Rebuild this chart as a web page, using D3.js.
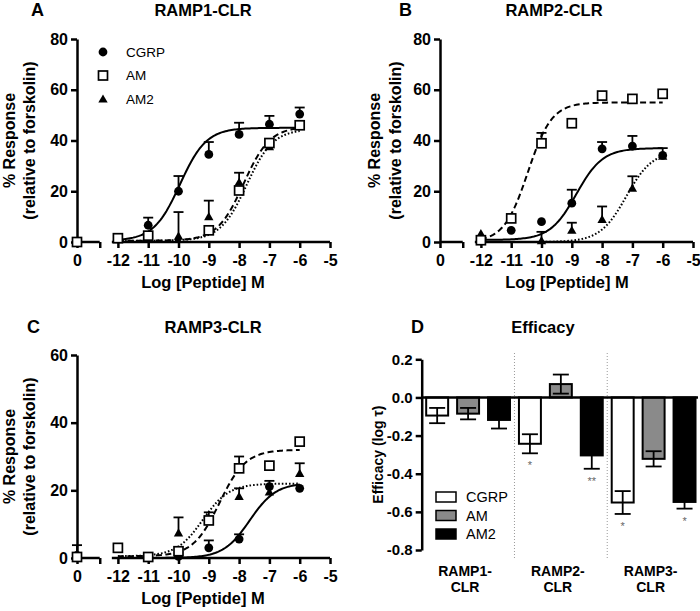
<!DOCTYPE html>
<html>
<head>
<meta charset="utf-8">
<script src="https://cdn.jsdelivr.net/npm/d3@7"></script>
<style>
  body { margin: 0; background: #fff; }
  text { font-family: "Liberation Sans", Arial, sans-serif; }
</style>
</head>
<body>
<svg id="fig" width="700" height="611"></svg>
<script>
// ---- data ----
// dose positions: null = vehicle ("0"), the rest are log [peptide] M
const logDose = [null, -12, -11, -10, -9, -8, -7, -6];
const xTicks = [-12, -11, -10, -9, -8, -7, -6, -5];
const seriesNames = ["CGRP", "AM", "AM2"];

// panel A  RAMP1-CLR
const aCgrp    = [0, null, 6.6, 20, 34.5, 42.4, 46.4, 50.4];
const aCgrpErr = [0, 0, 3, 6, 4.9, 4.6, 3.3, 2.6];
const aAm      = [0, 1.5, 2.5, null, 4.6, 20.3, 39, 46];
const aAmErr   = [0, 0, 0, 0, 0, 0, 0, 0];
const aAm2     = [null, null, null, 2.3, 10, 23.5, 37.5, 45.5];
const aAm2Err  = [0, 0, 0, 9.5, 6.3, 3.8, 0, 0];
// fits: [bottom, top, logEC50, hill]
const aFitCgrp = [0.5, 45, -9.95, 1];
const aFitAm   = [0.5, 45.5, -7.85, 1];
const aFitAm2  = [0.5, 44.5, -7.75, 1];

// panel B  RAMP2-CLR
const bCgrp    = [null, null, 4.6, 8, 15.3, 36.7, 37.8, 34.1];
const bCgrpErr = [0, 0, 0, 0, 5.3, 2.7, 4, 2.9];
const bAm      = [null, 0.7, 9.3, 38.9, 46.8, 57.7, 56.4, 58.4];
const bAmErr   = [0, 0, 0, 4.1, 0, 0, 0, 0];
const bAm2     = [null, 3.3, null, 0.5, 4.6, 8.9, 21.2, 33.8];
const bAm2Err  = [0, 0, 0, 3.5, 3, 5.1, 4.7, 0];
const bFitCgrp = [0.8, 37, -8.85, 1];
const bFitAm   = [0, 55, -10.45, 1.1];
const bFitAm2  = [0, 36, -7.2, 1];

// panel C  RAMP3-CLR
const cCgrp    = [0.8, null, null, 0.5, 3, 5.6, 21.1, 20.6];
const cCgrpErr = [3, 0, 0, 0, 2.2, 1.4, 1.7, 0];
const cAm      = [0.3, 3, 0.3, 2, 11.1, 26.5, 27.3, 34.4];
const cAmErr   = [0, 0, 0, 0, 2.4, 3.5, 0, 0];
const cAm2     = [1, null, null, 7.4, 11.5, 18.2, 19.5, 25];
const cAm2Err  = [0, 0, 0, 4.6, 0, 2.4, 0, 3];
const cFitCgrp = [0, 22.2, -7.65, 1];
const cFitAm   = [0.5, 32, -8.65, 1];
const cFitAm2  = [0.5, 22, -9.2, 1];

// panel D  efficacy (log tau)
const receptors = ["RAMP1-CLR", "RAMP2-CLR", "RAMP3-CLR"];
const dCgrp    = [-0.095, -0.243, -0.551];
const dCgrpErr = [0.04, 0.05, 0.06];
const dAm      = [-0.085, 0.07, -0.322];
const dAmErr   = [0.03, 0.05, 0.04];
const dAm2     = [-0.118, -0.304, -0.548];
const dAm2Err  = [0.045, 0.07, 0.035];
const dCgrpSig = ["", "*", "*"];
const dAmSig   = ["", "", ""];
const dAm2Sig  = ["", "**", "*"];
const dTicks = [0.2, 0, -0.2, -0.4, -0.6, -0.8];

// ---- drawing ----
const svg = d3.select("#fig");
svg.append("rect").attr("width", 700).attr("height", 611).attr("fill", "#fff");

const VEH = -13.35;      // where the vehicle point sits on the broken axis
const VEH_END = -12.6;   // end of the first axis piece
const MAIN_START = -12.2;

const AXW = 2.5;

function sigmoid(f, x) {
  return f[0] + (f[1] - f[0]) / (1 + Math.pow(10, (f[2] - x) * f[3]));
}

function drawMarker(g, name, cx, cy) {
  if (name === "AM") {
    g.append("rect")
      .attr("x", cx - 4.5).attr("y", cy - 4.5)
      .attr("width", 9).attr("height", 9)
      .attr("fill", "#fff").attr("stroke", "#000").attr("stroke-width", 1.7);
  } else if (name === "CGRP") {
    g.append("circle").attr("cx", cx).attr("cy", cy).attr("r", 4.4).attr("fill", "#000");
  } else {
    g.append("path")
      .attr("d", d3.symbol().type(d3.symbolTriangle).size(38)())
      .attr("transform", "translate(" + cx + "," + (cy + 0.8) + ")")
      .attr("fill", "#000");
  }
}

function styleTicks(sel, size) {
  sel.selectAll(".tick line").attr("stroke-width", AXW);
  sel.selectAll(".tick text").attr("font-size", size).attr("font-weight", "bold").attr("fill", "#000");
}

function drawDose(cfg) {
  const g = svg.append("g");
  const x = d3.scaleLinear().domain([VEH, -5]).range([cfg.x0, cfg.x0 + 253]);
  const y = d3.scaleLinear().domain([0, cfg.yMax]).range([cfg.yBot, cfg.yTop]);
  const px = d => d === null ? x(VEH) : x(d);

  // fitted curves
  const dash = { CGRP: null, AM: "6,3.5", AM2: "1.6,2" };
  cfg.series.forEach(s => {
    const pts = d3.range(-12, -5.99, 0.05).map(v => [x(v), y(sigmoid(s.fit, v))]);
    g.append("path")
      .attr("d", d3.line()(pts))
      .attr("fill", "none").attr("stroke", "#000").attr("stroke-width", 2)
      .attr("stroke-dasharray", dash[s.name]);
  });

  // x axis (broken)
  const xa = g.append("g").attr("transform", "translate(0," + cfg.yBot + ")")
    .call(d3.axisBottom(x)
      .tickValues([VEH, VEH_END].concat(xTicks))
      .tickFormat(d => d === VEH ? "0" : d === VEH_END ? "" : String(d))
      .tickSize(6).tickSizeOuter(0).tickPadding(7));
  xa.select(".domain").remove();
  styleTicks(xa, 16);
  [[VEH, VEH_END], [MAIN_START, -5]].forEach(seg => {
    xa.append("line").attr("x1", x(seg[0])).attr("x2", x(seg[1]))
      .attr("stroke", "#000").attr("stroke-width", AXW);
  });

  // y axis
  const ya = g.append("g").attr("transform", "translate(" + cfg.x0 + ",0)")
    .call(d3.axisLeft(y).tickValues(cfg.yTicks).tickSize(6).tickSizeOuter(0).tickPadding(3));
  ya.select(".domain").attr("stroke-width", AXW);
  styleTicks(ya, 16);

  // error bars then markers (AM2 under CGRP under AM)
  const order = ["AM2", "CGRP", "AM"];
  order.forEach(nm => {
    const s = cfg.series.find(t => t.name === nm);
    s.vals.forEach((v, i) => {
      if (v === null || !s.errs[i]) return;
      const cx = px(logDose[i]);
      g.append("line").attr("x1", cx).attr("x2", cx)
        .attr("y1", y(v)).attr("y2", y(v + s.errs[i]))
        .attr("stroke", "#000").attr("stroke-width", 1.8);
      g.append("line").attr("x1", cx - 5).attr("x2", cx + 5)
        .attr("y1", y(v + s.errs[i])).attr("y2", y(v + s.errs[i]))
        .attr("stroke", "#000").attr("stroke-width", 1.8);
    });
  });
  order.forEach(nm => {
    const s = cfg.series.find(t => t.name === nm);
    s.vals.forEach((v, i) => {
      if (v === null) return;
      drawMarker(g, nm, px(logDose[i]), y(v));
    });
  });

  // labels
  g.append("text").attr("x", cfg.letterX).attr("y", cfg.titleY)
    .attr("font-size", 18).attr("font-weight", "bold").text(cfg.letter);
  g.append("text").attr("x", cfg.titleX).attr("y", cfg.titleY)
    .attr("text-anchor", "middle").attr("font-size", 16.5).attr("font-weight", "bold").text(cfg.title);
  g.append("text").attr("x", cfg.xLabX).attr("y", cfg.yBot + 46)
    .attr("text-anchor", "middle").attr("font-size", 16.5).attr("font-weight", "bold")
    .text("Log [Peptide] M");
  const yMid = (cfg.yTop + cfg.yBot) / 2;
  [["% Response", cfg.yLab1], ["(relative to forskolin)", cfg.yLab2]].forEach(p => {
    g.append("text")
      .attr("transform", "translate(" + p[1] + "," + yMid + ") rotate(-90)")
      .attr("text-anchor", "middle").attr("dominant-baseline", "central")
      .attr("font-size", 16).attr("font-weight", "bold").text(p[0]);
  });

  if (cfg.legend) {
    seriesNames.forEach((nm, i) => {
      const ly = 52 + i * 23.5;
      drawMarker(g, nm, cfg.x0 + 26, ly);
      g.append("text").attr("x", cfg.x0 + 49).attr("y", ly).attr("dy", "0.36em")
        .attr("font-size", 13.5).text(nm);
    });
  }
}

drawDose({
  x0: 77, yTop: 39, yBot: 242, yMax: 80, yTicks: [0, 20, 40, 60, 80],
  letter: "A", letterX: 31, title: "RAMP1-CLR", titleX: 203, titleY: 16,
  xLabX: 203, yLab1: 9, yLab2: 29, legend: true,
  series: [
    { name: "CGRP", vals: aCgrp, errs: aCgrpErr, fit: aFitCgrp },
    { name: "AM", vals: aAm, errs: aAmErr, fit: aFitAm },
    { name: "AM2", vals: aAm2, errs: aAm2Err, fit: aFitAm2 }
  ]
});

drawDose({
  x0: 440, yTop: 39, yBot: 242, yMax: 80, yTicks: [0, 20, 40, 60, 80],
  letter: "B", letterX: 399, title: "RAMP2-CLR", titleX: 554, titleY: 16,
  xLabX: 567, yLab1: 374, yLab2: 395, legend: false,
  series: [
    { name: "CGRP", vals: bCgrp, errs: bCgrpErr, fit: bFitCgrp },
    { name: "AM", vals: bAm, errs: bAmErr, fit: bFitAm },
    { name: "AM2", vals: bAm2, errs: bAm2Err, fit: bFitAm2 }
  ]
});

drawDose({
  x0: 77, yTop: 355, yBot: 558, yMax: 60, yTicks: [0, 20, 40, 60],
  letter: "C", letterX: 27, title: "RAMP3-CLR", titleX: 213, titleY: 333,
  xLabX: 203, yLab1: 9, yLab2: 29, legend: false,
  series: [
    { name: "CGRP", vals: cCgrp, errs: cCgrpErr, fit: cFitCgrp },
    { name: "AM", vals: cAm, errs: cAmErr, fit: cFitAm },
    { name: "AM2", vals: cAm2, errs: cAm2Err, fit: cFitAm2 }
  ]
});

// ---- panel D ----
(function () {
  const g = svg.append("g");
  const x0 = 421.7;
  const y = d3.scaleLinear().domain([-0.8, 0.2]).range([550, 359.3]);
  const band = d3.scaleBand().domain(receptors).range([x0, 700]);
  const inner = d3.scaleBand().domain(seriesNames).range([0, band.bandwidth()])
    .paddingInner(0.29).paddingOuter(0.145);
  const fills = { CGRP: "#fff", AM: "#8a8a8a", AM2: "#000" };
  const vals = { CGRP: dCgrp, AM: dAm, AM2: dAm2 };
  const errs = { CGRP: dCgrpErr, AM: dAmErr, AM2: dAm2Err };
  const sigs = { CGRP: dCgrpSig, AM: dAmSig, AM2: dAm2Sig };

  // dotted separators
  receptors.slice(1).forEach(r => {
    g.append("line").attr("x1", band(r)).attr("x2", band(r))
      .attr("y1", 353).attr("y2", 558)
      .attr("stroke", "#999").attr("stroke-width", 1).attr("stroke-dasharray", "1,2");
  });

  receptors.forEach((r, i) => {
    seriesNames.forEach(nm => {
      const v = vals[nm][i], e = errs[nm][i];
      const bx = band(r) + inner(nm), bw = inner.bandwidth();
      g.append("rect")
        .attr("x", bx).attr("width", bw)
        .attr("y", y(Math.max(0, v))).attr("height", Math.abs(y(v) - y(0)))
        .attr("fill", fills[nm]).attr("stroke", "#000").attr("stroke-width", 2);
      const cx = bx + bw / 2;
      g.append("line").attr("x1", cx).attr("x2", cx)
        .attr("y1", y(v - e)).attr("y2", y(v + e))
        .attr("stroke", "#000").attr("stroke-width", 1.8);
      [v - e, v + e].forEach(t => {
        g.append("line").attr("x1", cx - 8).attr("x2", cx + 8)
          .attr("y1", y(t)).attr("y2", y(t))
          .attr("stroke", "#000").attr("stroke-width", 1.8);
      });
      if (sigs[nm][i]) {
        g.append("text").attr("x", cx).attr("y", y(v - e) + 16)
          .attr("text-anchor", "middle").attr("font-size", 11).attr("fill", "#666")
          .text(sigs[nm][i]);
      }
    });
    // group label
    const lab = g.append("text").attr("text-anchor", "middle")
      .attr("font-size", 14).attr("font-weight", "bold");
    const parts = r.split("-");
    const lx = band(r) + band.bandwidth() / 2 - 3;
    lab.append("tspan").attr("x", lx).attr("y", 576).text(parts[0] + "-");
    lab.append("tspan").attr("x", lx).attr("y", 592).text(parts[1]);
  });

  // zero line and y axis
  g.append("line").attr("x1", x0).attr("x2", 698).attr("y1", y(0)).attr("y2", y(0))
    .attr("stroke", "#000").attr("stroke-width", AXW);
  const ya = g.append("g").attr("transform", "translate(" + x0 + ",0)")
    .call(d3.axisLeft(y).tickValues(dTicks).tickFormat(d => d.toFixed(1))
      .tickSize(6).tickSizeOuter(0).tickPadding(3));
  ya.select(".domain").attr("stroke-width", AXW);
  styleTicks(ya, 15);

  g.append("text")
    .attr("transform", "translate(378," + ((359.3 + 550) / 2) + ") rotate(-90)")
    .attr("text-anchor", "middle").attr("dominant-baseline", "central")
    .attr("font-size", 14).attr("font-weight", "bold").text("Efficacy (log \u03C4)");

  g.append("text").attr("x", 411).attr("y", 333)
    .attr("font-size", 18).attr("font-weight", "bold").text("D");
  g.append("text").attr("x", 543).attr("y", 333).attr("text-anchor", "middle")
    .attr("font-size", 16.5).attr("font-weight", "bold").text("Efficacy");

  // legend
  seriesNames.forEach((nm, i) => {
    const ly = 492 + i * 18.5;
    g.append("rect").attr("x", 436).attr("y", ly).attr("width", 20).attr("height", 10)
      .attr("fill", fills[nm]).attr("stroke", "#000").attr("stroke-width", 1.5);
    g.append("text").attr("x", 466).attr("y", ly + 5).attr("dy", "0.36em")
      .attr("font-size", 14.5).text(nm);
  });
})();
</script>
</body>
</html>
